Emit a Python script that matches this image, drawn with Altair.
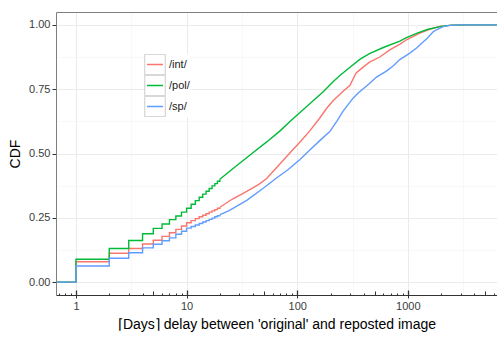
import altair as alt
import pandas as pd

series = ["/int/", "/pol/", "/sp/"]
palette = ["#F8766D", "#00BA38", "#619CFF"]

# stepped part (integer day CDF values)
step_days = [0.66, 1, 2, 3, 4, 5, 6, 7, 8, 9, 10, 11, 12, 13, 14, 15, 16, 17, 18, 19, 20]
int_step = [0, 0.079, 0.112, 0.131, 0.148, 0.163, 0.178, 0.192, 0.205, 0.218, 0.231,
            0.239, 0.247, 0.254, 0.260, 0.266, 0.272, 0.277, 0.282, 0.287, 0.291]
pol_step = [0, 0.089, 0.131, 0.162, 0.188, 0.209, 0.226, 0.243, 0.257, 0.272, 0.287,
            0.303, 0.317, 0.330, 0.342, 0.353, 0.364, 0.374, 0.383, 0.392, 0.400]
sp_step = [0, 0.063, 0.093, 0.114, 0.133, 0.147, 0.161, 0.172, 0.186, 0.198, 0.210,
           0.216, 0.222, 0.228, 0.234, 0.239, 0.244, 0.249, 0.254, 0.258, 0.262]

# smooth part
int_days = [20, 26, 35, 45, 53, 61, 70, 85, 106, 130, 160, 184, 211, 250, 300, 340, 368,
            450, 558, 687, 850, 972, 1283, 1600, 1950, 2500, 3500, 6400]
int_cdf = [0.291, 0.323, 0.353, 0.380, 0.403, 0.432, 0.460, 0.500, 0.545, 0.588, 0.638,
           0.675, 0.705, 0.735, 0.765, 0.812, 0.825, 0.855, 0.875, 0.903, 0.925, 0.942,
           0.968, 0.984, 0.994, 0.999, 1.0, 1.0]
pol_days = [20, 26, 39, 53, 70, 86, 106, 130, 172, 211, 243, 300, 368, 450, 600, 847,
            972, 1200, 1500, 2000, 2500, 3500, 6400]
pol_cdf = [0.400, 0.440, 0.500, 0.545, 0.588, 0.624, 0.659, 0.693, 0.740, 0.779, 0.803,
           0.835, 0.866, 0.888, 0.912, 0.937, 0.950, 0.967, 0.982, 0.994, 0.999, 1.0, 1.0]
sp_days = [20, 24, 35, 50, 65, 83, 106, 130, 160, 197, 230, 260, 320, 360, 450, 521, 640,
           736, 847, 1043, 1200, 1374, 1500, 1694, 1815, 2084, 2410, 3000, 6400]
sp_cdf = [0.262, 0.277, 0.318, 0.367, 0.405, 0.438, 0.477, 0.514, 0.550, 0.585, 0.628,
          0.665, 0.715, 0.737, 0.772, 0.797, 0.820, 0.840, 0.865, 0.890, 0.910, 0.933,
          0.948, 0.973, 0.981, 0.993, 0.998, 1.0, 1.0]

x_domain = [0.66, 6400]
y_domain = [-0.05, 1.05]
x_major = [1, 10, 100, 1000]
x_minor_grid = [3.1623, 31.623, 316.23, 3162.3]
x_mid_ticks = [5, 50, 500, 5000]
x_short_ticks = [0.7, 0.8, 0.9, 2, 3, 4, 6, 7, 8, 9, 20, 30, 40, 60, 70, 80, 90,
                 200, 300, 400, 600, 700, 800, 900, 2000, 3000, 4000, 6000]
y_major = [0, 0.25, 0.5, 0.75, 1.0]
y_minor = [0.125, 0.375, 0.625, 0.875]
legend_keys = ["k1", "k2", "k3"]

step_df = pd.DataFrame({
    "day": step_days * 3,
    "cdf": int_step + pol_step + sp_step,
    "series": [s for s in series for _ in step_days],
})
smooth_df = pd.concat([
    pd.DataFrame({"day": int_days, "cdf": int_cdf, "series": series[0]}),
    pd.DataFrame({"day": pol_days, "cdf": pol_cdf, "series": series[1]}),
    pd.DataFrame({"day": sp_days, "cdf": sp_cdf, "series": series[2]}),
], ignore_index=True)
dummy_df = pd.DataFrame({"day": [1], "cdf": [0], "key": ["k1"]})

FONT = "Liberation Sans"
xs = alt.Scale(type="log", domain=x_domain, nice=False)
ys = alt.Scale(domain=y_domain, nice=False, zero=False)
cs = alt.Scale(domain=series, range=palette)


def blank_axis(**kw):
    base = dict(labels=False, ticks=False, domain=False, grid=False, title=None)
    base.update(kw)
    return alt.Axis(**base)


empty = alt.Chart(dummy_df).transform_filter("false")

grid_minor = empty.mark_rule().encode(
    x=alt.X("day:Q", scale=xs, axis=blank_axis(values=x_minor_grid, grid=True, gridColor="#F4F4F4",
                                               gridWidth=0.6, orient="bottom", zindex=0)),
    y=alt.Y("cdf:Q", scale=ys, axis=blank_axis(values=y_minor, grid=True, gridColor="#F4F4F4",
                                               gridWidth=0.6, orient="left", zindex=0)),
)
grid_major = empty.mark_rule().encode(
    x=alt.X("day:Q", scale=xs, axis=blank_axis(values=x_major, grid=True, gridColor="#EBEBEB",
                                               gridWidth=1, orient="bottom", zindex=0)),
    y=alt.Y("cdf:Q", scale=ys, axis=blank_axis(values=y_major, grid=True, gridColor="#EBEBEB",
                                               gridWidth=1, orient="left", zindex=0)),
)
main_axes = empty.mark_rule().encode(
    x=alt.X("day:Q", scale=xs, axis=alt.Axis(
        values=x_major, format="d", orient="bottom", grid=False, zindex=1,
        tickSize=3, tickColor="#333333", tickWidth=1,
        domainColor="#333333", domainWidth=1,
        labelFont=FONT, labelFontSize=11, labelColor="#3c3c3c", labelPadding=2, labelFlush=False,
        title="⌈Days⌉ delay between 'original' and reposted image",
        titleFont=FONT, titleFontSize=14, titleFontWeight="normal", titleColor="#000000",
        titlePadding=6)),
    y=alt.Y("cdf:Q", scale=ys, axis=alt.Axis(
        values=y_major, format=".2f", orient="left", grid=False, zindex=1,
        tickSize=4, tickColor="#333333", tickWidth=1,
        domainColor="#7F7F7F", domainWidth=1,
        labelFont=FONT, labelFontSize=11, labelColor="#3c3c3c", labelPadding=2,
        title="CDF", titleFont=FONT, titleFontSize=14, titleFontWeight="normal",
        titleColor="#000000", titlePadding=6)),
)
short_ticks = empty.mark_rule().encode(
    x=alt.X("day:Q", scale=xs, axis=blank_axis(values=x_short_ticks, ticks=True, tickSize=2,
                                               tickColor="#333333", offset=-2, orient="bottom", zindex=1)),
)
mid_ticks = empty.mark_rule().encode(
    x=alt.X("day:Q", scale=xs, axis=blank_axis(values=x_mid_ticks, ticks=True, tickSize=4,
                                               tickColor="#333333", offset=-4, orient="bottom", zindex=1)),
)
long_ticks = empty.mark_rule().encode(
    x=alt.X("day:Q", scale=xs, axis=blank_axis(values=x_major, ticks=True, tickSize=5,
                                               tickColor="#333333", tickWidth=1.3, offset=-5,
                                               orient="bottom", zindex=1)),
)
top_border = empty.mark_rule().encode(
    x=alt.X("day:Q", scale=xs, axis=blank_axis(domain=True, domainColor="#7F7F7F", domainWidth=1,
                                               orient="top", zindex=1)),
)

color_legend = alt.Legend(
    title=None, orient="none", legendX=88, legendY=42, padding=0, rowPadding=0,
    clipHeight=21, symbolType="M-0.78,0L0.78,0", symbolSize=420, symbolStrokeWidth=1.4,
    labelFont=FONT, labelFontSize=11, labelColor="#1a1a1a", labelOffset=3,
    fillColor="white",
)
steps = alt.Chart(step_df).mark_line(interpolate="step-after", strokeWidth=1.4).encode(
    x=alt.X("day:Q", scale=xs, axis=None),
    y=alt.Y("cdf:Q", scale=ys, axis=None),
    color=alt.Color("series:N", scale=cs, legend=color_legend),
)
smooth = alt.Chart(smooth_df).mark_line(strokeWidth=1.4).encode(
    x=alt.X("day:Q", scale=xs, axis=None),
    y=alt.Y("cdf:Q", scale=ys, axis=None),
    color=alt.Color("series:N", scale=cs, legend=color_legend),
)
key_boxes = empty.mark_point(filled=False, color="#CCCCCC", opacity=1, strokeWidth=1).encode(
    x=alt.X("day:Q", scale=xs, axis=None),
    y=alt.Y("cdf:Q", scale=ys, axis=None),
    shape=alt.Shape("key:N", scale=alt.Scale(domain=legend_keys, range=["square"] * 3),
                    legend=alt.Legend(title=None, orient="none", legendX=88, legendY=42,
                                      padding=0, rowPadding=0, clipHeight=21, symbolSize=420,
                                      symbolStrokeWidth=1, labelFontSize=11,
                                      labelExpr="''", labelOffset=3)),
)

chart = alt.layer(
    grid_minor, grid_major, main_axes, short_ticks, mid_ticks, long_ticks, top_border,
    steps, smooth, key_boxes,
).resolve_axis(x="independent", y="independent").properties(
    width=441, height=283, autosize=alt.AutoSizeParams(type="none"),
    padding={"left": 56, "top": 12, "right": 0, "bottom": 42},
    background="white",
).configure_view(stroke=None)

chart.save("out.html", embed_options={"renderer": "svg", "actions": False})
